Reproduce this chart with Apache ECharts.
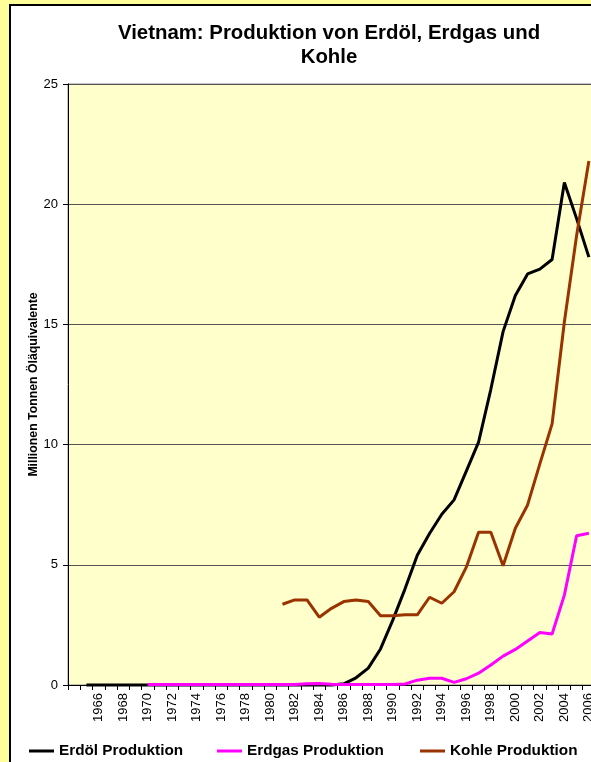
<!DOCTYPE html>
<html>
<head>
<meta charset="utf-8">
<script src="https://cdn.jsdelivr.net/npm/echarts@6/dist/echarts.min.js"></script>
<style>
  html, body { margin: 0; padding: 0; background: #ffff99; overflow: hidden; }
  #frame { position: absolute; left: 9px; top: 4px; width: 640px; height: 800px;
           border-left: 2px solid #000; border-top: 2px solid #000; background: #fff; }
  #chart { position: absolute; left: 0; top: 0; width: 591px; height: 762px; }
</style>
</head>
<body>
<div id="frame"></div>
<div id="chart"></div>
<script>
// Jahre (erste Kategorie leer, wie im Original)
const years = [''];
for (let y = 1965; y <= 2006; y++) years.push(String(y));

// Millionen Tonnen Öläquivalente
const erdoel = [null,
  0, 0, 0, 0, 0, 0, 0, 0, 0, 0,            // 1965-1974
  0, 0, 0, 0, 0, 0, 0, 0, 0, 0,            // 1975-1984
  0, 0.05, 0.3, 0.7, 1.5, 2.7, 4.0, 5.4, 6.3, 7.1,   // 1985-1994
  7.7, 8.9, 10.1, 12.3, 14.7, 16.2, 17.1, 17.3, 17.7, 20.9, // 1995-2004
  19.4, 17.8];                              // 2005-2006

const erdgas = [null,
  null, null, null, null, null, 0.02, 0.02, 0.02, 0.02, 0.02,   // 1965-1974
  0.02, 0.02, 0.02, 0.02, 0.02, 0.02, 0.02, 0.02, 0.05, 0.06,   // 1975-1984
  0.03, 0.02, 0.02, 0.02, 0.02, 0.02, 0.04, 0.2, 0.28, 0.28,    // 1985-1994
  0.11, 0.26, 0.49, 0.83, 1.2, 1.48, 1.83, 2.18, 2.12, 3.74,    // 1995-2004
  6.21, 6.31];

const kohle = [null,
  null, null, null, null, null, null, null, null, null, null,   // 1965-1974
  null, null, null, null, null, null, 3.36, 3.54, 3.54, 2.82,   // 1975-1984
  3.19, 3.47, 3.54, 3.47, 2.88, 2.88, 2.92, 2.92, 3.65, 3.40,   // 1985-1994
  3.88, 4.9, 6.35, 6.35, 4.96, 6.52, 7.49, 9.2, 10.86, 15.1,    // 1995-2004
  18.7, 21.8];

const yTicks = { min: 0, max: 25, interval: 5 };

const font = 'Liberation Sans, Arial, sans-serif';
const chart = echarts.init(document.getElementById('chart'));

function legendAt(name, left) {
  return {
    data: [name], left: left, top: 742, padding: 0,
    icon: 'rect', itemWidth: 25, itemHeight: 3, itemGap: 0,
    textStyle: { fontFamily: font, fontSize: 15.3, fontWeight: 'bold', color: '#000', lineHeight: 18 }
  };
}

chart.setOption({
  animation: false,
  backgroundColor: 'transparent',
  title: {
    text: 'Vietnam: Produktion von Erdöl, Erdgas und\nKohle',
    left: 329, top: 21, padding: 0, textAlign: 'center',
    textStyle: { fontFamily: font, fontSize: 20.4, fontWeight: 'bold', color: '#000', lineHeight: 24 }
  },
  legend: [
    legendAt('Erdöl Produktion', 29),
    legendAt('Erdgas Produktion', 217),
    legendAt('Kohle Produktion', 420)
  ],
  grid: {
    left: 68, top: 84, width: 527, height: 601,
    outerBoundsMode: 'none', containLabel: false,
    show: true, backgroundColor: '#ffffcc', borderColor: '#888', borderWidth: 1
  },
  xAxis: {
    type: 'category',
    data: years,
    boundaryGap: true,
    axisLine: { lineStyle: { color: '#000', width: 1 } },
    axisTick: { show: true, interval: 0, length: 5, lineStyle: { color: '#000' } },
    axisLabel: { interval: 1, rotate: 90, margin: 8, fontFamily: font, fontSize: 13, color: '#000' },
    splitLine: { show: false }
  },
  yAxis: {
    type: 'value',
    min: yTicks.min, max: yTicks.max, interval: yTicks.interval,
    name: 'Millionen Tonnen Öläquivalente',
    nameLocation: 'middle', nameGap: 28, nameRotate: 90, nameMoveOverlap: false,
    nameTextStyle: { fontFamily: font, fontSize: 12.3, fontWeight: 'bold', color: '#000' },
    axisLine: { show: true, lineStyle: { color: '#000', width: 1 } },
    axisTick: { show: true, length: 5, lineStyle: { color: '#000' } },
    axisLabel: { margin: 10, fontFamily: font, fontSize: 13, color: '#000' },
    splitLine: { show: true, lineStyle: { color: '#555', width: 1 } }
  },
  series: [
    { name: 'Erdöl Produktion', type: 'line', data: erdoel, symbol: 'none', clip: false,
      lineStyle: { color: '#000000', width: 3 }, itemStyle: { color: '#000000' } },
    { name: 'Erdgas Produktion', type: 'line', data: erdgas, symbol: 'none', clip: false,
      lineStyle: { color: '#ff00ff', width: 3 }, itemStyle: { color: '#ff00ff' } },
    { name: 'Kohle Produktion', type: 'line', data: kohle, symbol: 'none', clip: false,
      lineStyle: { color: '#993300', width: 3 }, itemStyle: { color: '#993300' } }
  ]
});
</script>
</body>
</html>
